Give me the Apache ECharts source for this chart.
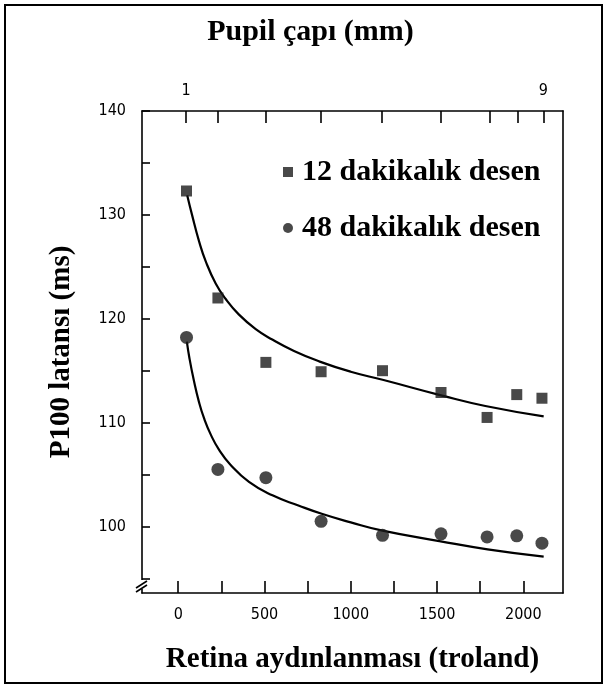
<!DOCTYPE html>
<html><head><meta charset="utf-8">
<script src="https://cdn.jsdelivr.net/npm/echarts@6/dist/echarts.min.js"></script>
<style>html,body{margin:0;padding:0;background:#fff}#c{width:608px;height:689px}</style>
</head><body><div id="c"></div>
<script>
// Data
const illuminance = [48, 230, 508, 828, 1184, 1523, 1790, 1962, 2108];
const latency12 = [132.3, 122.0, 115.8, 114.9, 115.0, 112.9, 110.5, 112.7, 112.35];
const latency48 = [118.2, 105.5, 104.7, 100.5, 99.15, 99.3, 99.0, 99.1, 98.4];
const fit12X = [52, 80, 120, 160, 217, 275, 352, 449, 545, 671, 816, 1000, 1190, 1529, 1780, 2118];
const fit12Y = [131.9, 130.0, 127.5, 125.5, 123.4, 121.9, 120.4, 119.0, 118.0, 116.9, 115.9, 114.9, 114.1, 112.6, 111.6, 110.6];
const fit48X = [50, 65, 90, 120, 150, 190, 236, 300, 410, 546, 700, 836, 1000, 1184, 1513, 1793, 2118];
const fit48Y = [117.8, 116.2, 114.1, 112.0, 110.4, 108.8, 107.4, 106.0, 104.3, 103.0, 102.0, 101.2, 100.4, 99.6, 98.6, 97.8, 97.1];
const xTicks = [0, 250, 500, 750, 1000, 1250, 1500, 1750, 2000];
const xLabels = [0, 500, 1000, 1500, 2000];
const yTicks = [95, 100, 105, 110, 115, 120, 125, 130, 135, 140];
const yLabels = [100, 110, 120, 130, 140];
const pupilPositions = [45, 230, 508, 827, 1182, 1524, 1803, 1965, 2116];
const pupilLabels = ['1', '', '', '', '', '', '', '', '9'];
const seriesNames = ['12 dakikalık desen', '48 dakikalık desen'];

const serif = '"Liberation Serif", "DejaVu Serif", serif';
const narrow = '"Liberation Sans Narrow", "DejaVu Sans Condensed", "Liberation Sans", sans-serif';
const X_MIN = -210, X_MAX = 2230, Y_MIN = 93.6, Y_MAX = 140;

const chart = echarts.init(document.getElementById('c'), null, {renderer: 'canvas'});
const zip = (a, b) => a.map((v, i) => [v, b[i]]);
const axisLineStyle = {onZero: false, lineStyle: {color: '#000', width: 1.6}};
const tickLine = {color: '#000', width: 1.6};

chart.setOption({
  backgroundColor: '#fff',
  animation: false,
  grid: {left: 142, right: 45, top: 111, bottom: 96},
  legend: {
    orient: 'vertical', left: 278, top: 152, itemGap: 26,
    itemWidth: 10, itemHeight: 10,
    textStyle: {fontFamily: serif, fontWeight: 'bold', fontSize: 30, color: '#000', padding: [0, 0, 0, 4]},
    data: [{name: seriesNames[0], icon: 'rect'}, {name: seriesNames[1], icon: 'circle'}]
  },
  xAxis: [{
    type: 'value', min: X_MIN, max: X_MAX, position: 'bottom',
    axisLine: axisLineStyle,
    axisTick: {inside: true, length: 12, customValues: xTicks, lineStyle: tickLine},
    axisLabel: {customValues: xLabels, formatter: v => String(v), fontFamily: narrow, fontSize: 16, color: '#000', margin: 14},
    splitLine: {show: false},
    name: 'Retina aydınlanması (troland)', nameLocation: 'middle', nameGap: 52,
    nameTextStyle: {fontFamily: serif, fontWeight: 'bold', fontSize: 29, color: '#000'}
  }, {
    type: 'value', min: X_MIN, max: X_MAX, position: 'top',
    axisLine: axisLineStyle,
    axisTick: {inside: true, length: 12, customValues: pupilPositions, lineStyle: tickLine},
    axisLabel: {
      customValues: [pupilPositions[0], pupilPositions[pupilPositions.length - 1]],
      formatter: v => pupilLabels[pupilPositions.indexOf(v)] || '',
      fontFamily: narrow, fontSize: 16, color: '#000', margin: 12
    },
    splitLine: {show: false},
    name: 'Pupil çapı (mm)', nameLocation: 'middle', nameGap: 64,
    nameTextStyle: {fontFamily: serif, fontWeight: 'bold', fontSize: 30, color: '#000', padding: [0, 84, 0, 0]}
  }],
  yAxis: [{
    type: 'value', min: Y_MIN, max: Y_MAX, position: 'left',
    axisLine: axisLineStyle,
    axisTick: {inside: true, length: 8, customValues: yTicks, lineStyle: tickLine},
    axisLabel: {customValues: yLabels, fontFamily: narrow, fontSize: 16, color: '#000', margin: 16},
    splitLine: {show: false},
    name: 'P100 latansı (ms)', nameLocation: 'middle', nameGap: 66, nameRotate: 90,
    nameTextStyle: {fontFamily: serif, fontWeight: 'bold', fontSize: 29, color: '#000'}
  }, {
    type: 'value', min: Y_MIN, max: Y_MAX, position: 'right',
    axisLine: axisLineStyle, axisTick: {show: false}, axisLabel: {show: false}, splitLine: {show: false}
  }],
  series: [{
    name: seriesNames[0], type: 'scatter', symbol: 'rect', symbolSize: 11,
    itemStyle: {color: '#1c1c1c'}, data: zip(illuminance, latency12), z: 3
  }, {
    name: seriesNames[1], type: 'scatter', symbol: 'circle', symbolSize: 13,
    itemStyle: {color: '#1c1c1c'}, data: zip(illuminance, latency48), z: 3
  }, {
    name: 'fit12', type: 'line', smooth: 0.5, showSymbol: false, symbol: 'none',
    lineStyle: {color: '#000', width: 2.2}, data: zip(fit12X, fit12Y), z: 2
  }, {
    name: 'fit48', type: 'line', smooth: 0.5, showSymbol: false, symbol: 'none',
    lineStyle: {color: '#000', width: 2.2}, data: zip(fit48X, fit48Y), z: 2
  }]
});

// axis break mark and outer frame
const corner = chart.convertToPixel({xAxisIndex: 0, yAxisIndex: 0}, [X_MIN, Y_MIN]);
const bx = corner[0], by = corner[1];
chart.setOption({
  graphic: [
    {type: 'rect', shape: {x: 5, y: 5, width: 597, height: 678}, style: {fill: 'none', stroke: '#000', lineWidth: 2}, silent: true},
    {type: 'rect', shape: {x: bx - 3, y: by - 13, width: 6, height: 9}, style: {fill: '#fff'}, silent: true, z: 10},
    {type: 'line', shape: {x1: bx - 6, y1: by - 5, x2: bx + 5, y2: by - 12}, style: {stroke: '#000', lineWidth: 1.6}, z: 11},
    {type: 'line', shape: {x1: bx - 6, y1: by - 1, x2: bx + 5, y2: by - 8}, style: {stroke: '#000', lineWidth: 1.6}, z: 11}
  ]
});
</script></body></html>
